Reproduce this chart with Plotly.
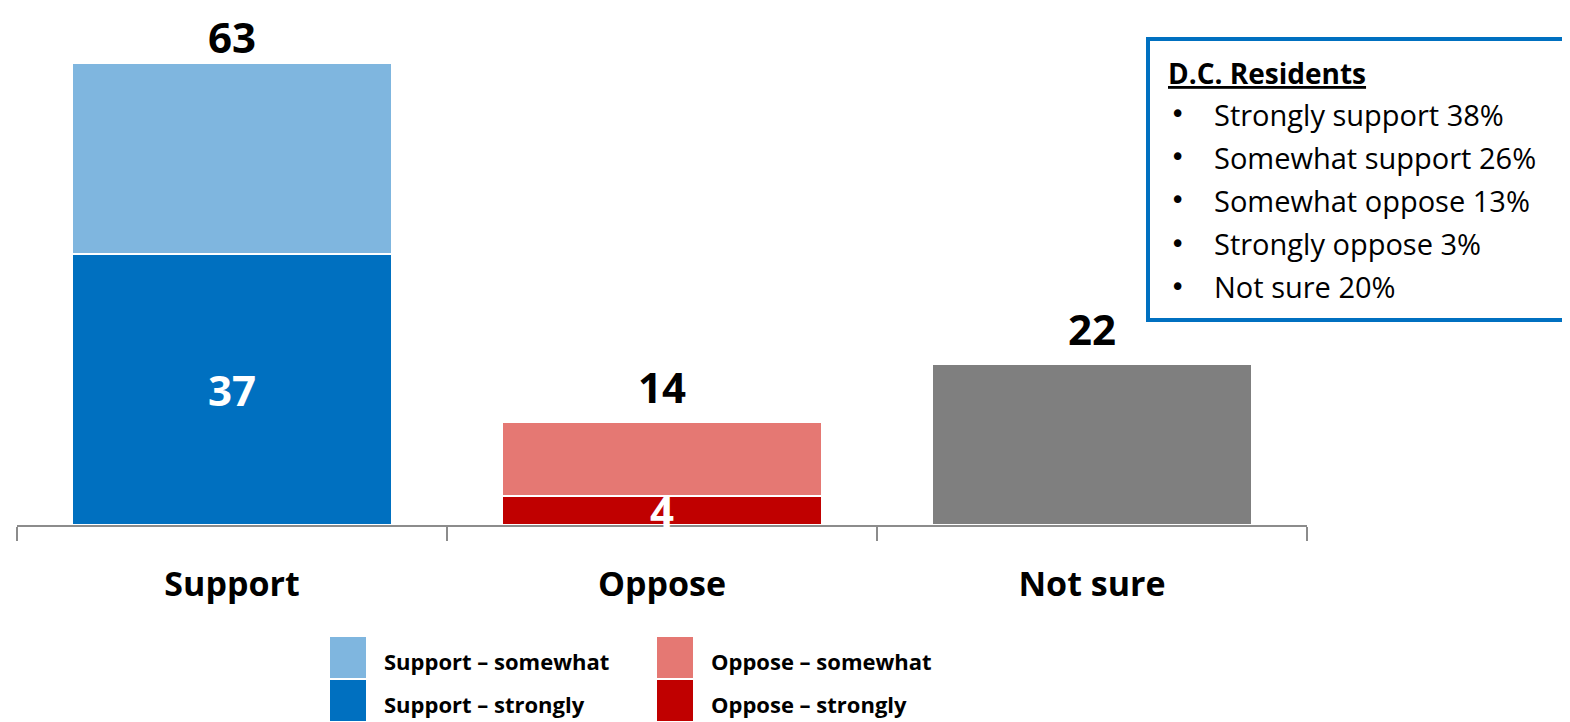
import plotly.graph_objects as go

categories = ["Support", "Oppose", "Not sure"]
support_strongly = [37, None, None]
support_somewhat = [26, None, None]
oppose_strongly = [None, 4, None]
oppose_somewhat = [None, 10, None]
not_sure = [None, None, 22]
totals = [63, 14, 22]
inner_labels = [37, 4, None]

legend_items = [
    ("Support \u2013 somewhat", "#7FB6DF"),
    ("Support \u2013 strongly", "#0070C0"),
    ("Oppose \u2013 somewhat", "#E57873"),
    ("Oppose \u2013 strongly", "#C00000"),
]

box_title = "D.C. Residents"
box_lines = [
    "Strongly support 38%",
    "Somewhat support 26%",
    "Somewhat oppose 13%",
    "Strongly oppose 3%",
    "Not sure 20%",
]

FONT = "Open Sans"
W, H = 1570, 722

fig = go.Figure()

series = [
    ("Support \u2013 strongly", support_strongly, "#0070C0"),
    ("Support \u2013 somewhat", support_somewhat, "#7FB6DF"),
    ("Oppose \u2013 strongly", oppose_strongly, "#C00000"),
    ("Oppose \u2013 somewhat", oppose_somewhat, "#E57873"),
    ("Not sure", not_sure, "#7F7F7F"),
]
for name, vals, color in series:
    fig.add_trace(go.Bar(
        x=categories, y=vals, name=name, width=0.742,
        marker=dict(color=color, line=dict(color="white", width=2)),
        hoverinfo="skip",
    ))

# totals above bars (the tallest one sits closer so it stays on the page)
for cat, tot in zip(categories, totals):
    fig.add_annotation(
        x=cat, y=tot, text=f"<b>{tot}</b>", showarrow=False,
        yanchor="bottom", yshift=-3 if tot == max(totals) else 6,
        borderpad=0,
        font=dict(family=FONT, size=42, color="black"),
    )

# values inside the strongly segments
for cat, val in zip(categories, inner_labels):
    if val is None:
        continue
    fig.add_annotation(
        x=cat, y=val / 2, text=f"<b>{val}</b>", showarrow=False,
        yanchor="middle",
        font=dict(family=FONT, size=42, color="white"),
    )

# legend drawn by hand (big square swatches); coords are page pixels
sw_x = [330, 330, 657, 657]
sw_y = [637, 680, 637, 680]
for (label, color), x0, y0 in zip(legend_items, sw_x, sw_y):
    fig.add_shape(
        type="rect", xref="paper", yref="paper",
        x0=(x0 - 17) / 1290, x1=(x0 + 36 - 17) / 1290,
        y0=(525 - y0) / 513, y1=(525 - y0 - 41) / 513,
        fillcolor=color, line=dict(width=0),
    )
    fig.add_annotation(
        xref="paper", yref="paper",
        x=(x0 + 52 - 17) / 1290, y=(525 - y0 - 24) / 513,
        text=f"<b>{label}</b>", showarrow=False,
        xanchor="left", yanchor="middle",
        font=dict(family=FONT, size=22, color="black"),
    )

# D.C. Residents box
fig.add_shape(
    type="rect", xref="paper", yref="paper",
    x0=(1148 - 17) / 1290, x1=(1600 - 17) / 1290,
    y0=(525 - 39) / 513, y1=(525 - 320) / 513,
    fillcolor="white", line=dict(color="#0070C0", width=4),
)
fig.add_annotation(
    xref="paper", yref="paper",
    x=(1166 - 17) / 1290, y=(525 - 73) / 513,
    text=f"<b><u>{box_title}</u></b>", showarrow=False,
    xanchor="left", yanchor="middle",
    font=dict(family=FONT, size=28, color="black"),
)
for i, line in enumerate(box_lines):
    yc = 114 + i * 43.2
    fig.add_annotation(
        xref="paper", yref="paper",
        x=(1168 - 17) / 1290, y=(525 - yc) / 513,
        text="\u2022", showarrow=False, xanchor="left", yanchor="middle",
        font=dict(family="DejaVu Sans", size=26, color="black"),
    )
    fig.add_annotation(
        xref="paper", yref="paper",
        x=(1212 - 17) / 1290, y=(525 - yc) / 513,
        text=line, showarrow=False, xanchor="left", yanchor="middle",
        font=dict(family=FONT, size=29, color="black"),
    )

# page body has an 8px margin, so the figure is offset by 8px
fig.update_layout(
    width=W, height=H,
    barmode="stack",
    showlegend=False,
    plot_bgcolor="white", paper_bgcolor="white",
    margin=dict(l=9, r=271, t=4, b=205),
    font=dict(family=FONT),
)
fig.update_xaxes(
    range=[-0.5, 2.5], tickson="boundaries",
    ticks="outside", ticklen=14, tickwidth=2, tickcolor="#8C8C8C",
    showline=True, linecolor="#8C8C8C", linewidth=2,
    tickfont=dict(family=FONT, size=34, color="black"),
    ticklabelstandoff=28,
    tickvals=categories, ticktext=[f"<b>{c}</b>" for c in categories],
)
fig.update_yaxes(range=[0, 70], visible=False, showgrid=False)

fig.write_html("out.html")
